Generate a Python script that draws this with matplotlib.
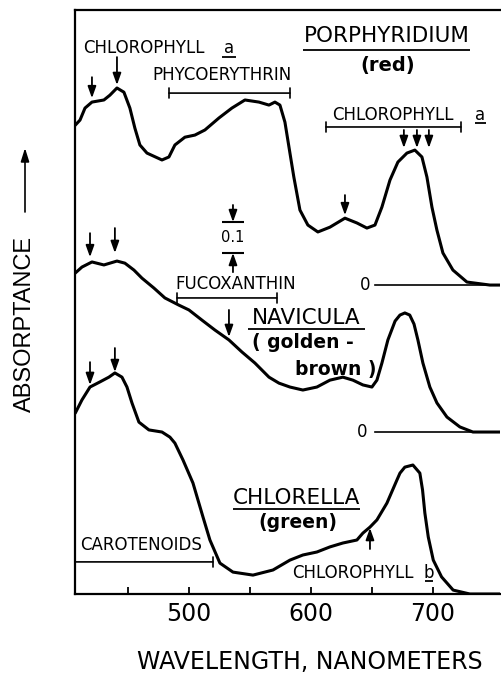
import matplotlib.pyplot as plt

# absorptance spectra (each relative to its own zero)
wl_porph = [406.8, 410.7, 414.8, 420.5, 430.3, 435.2, 441, 446.7, 451.6, 455.7, 459.8, 465.6, 477.9, 483.6,
            488.5, 496.7, 504.9, 513.1, 524.6, 535.2, 545.9, 557.4, 565.6, 570.5, 574.6, 578.7, 582.8, 586,
            591, 597.5, 605.7, 615.6, 627.9, 637.7, 645.9, 652.5, 658.2, 664.8, 671.3, 678.7, 685.2, 691,
            695.1, 699.2, 703.3, 708.2, 716.4, 727.9, 746.7, 755]
ab_porph = [0.533, 0.55, 0.59, 0.61, 0.617, 0.633, 0.657, 0.643, 0.59, 0.523, 0.467, 0.44, 0.417, 0.427,
            0.467, 0.493, 0.5, 0.517, 0.557, 0.59, 0.617, 0.61, 0.6, 0.61, 0.6, 0.543, 0.44, 0.36,
            0.25, 0.2, 0.177, 0.193, 0.223, 0.207, 0.19, 0.2, 0.26, 0.35, 0.41, 0.44, 0.45, 0.427,
            0.36, 0.26, 0.183, 0.107, 0.05, 0.01, 0.0, 0.0]

wl_navi = [406.8, 412.3, 420.5, 430.3, 441, 447.5, 454.9, 461.5, 471.3, 480.3, 491.8, 500, 510.7, 521.3,
           532.8, 543.4, 554.1, 565.6, 573.8, 582.8, 593.4, 604.9, 615.6, 626.2, 634.4, 642.6, 650, 654.1,
           658.2, 663.1, 669, 673, 677, 681, 684.5, 687.7, 691.8, 697.5, 703.3, 711.5, 722.1, 732.8, 755]
ab_navi = [0.53, 0.55, 0.567, 0.557, 0.57, 0.563, 0.54, 0.513, 0.48, 0.447, 0.423, 0.407, 0.373, 0.34,
           0.307, 0.267, 0.23, 0.183, 0.163, 0.15, 0.14, 0.15, 0.173, 0.183, 0.173, 0.157, 0.15, 0.173,
           0.23, 0.307, 0.37, 0.39, 0.397, 0.39, 0.36, 0.307, 0.23, 0.15, 0.097, 0.05, 0.017, 0.0, 0.0]

wl_chlo = [406.8, 412.3, 418.9, 427, 434.4, 439.3, 445.1, 449.2, 453.3, 459, 467.2, 477.9, 484.4, 488.5,
           495.1, 503.3, 511.5, 517.2, 525.4, 536.1, 552.5, 568.9, 582.8, 593.4, 604.9, 615.6, 626.2, 637.7,
           642.6, 648.4, 654.1, 662.3, 670.5, 673, 677, 683.6, 689.3, 691.5, 693.4, 696.2, 700.3, 707.1,
           716.6, 730.3, 755]
ab_chlo = [0.603, 0.647, 0.69, 0.707, 0.723, 0.737, 0.723, 0.69, 0.637, 0.573, 0.547, 0.54, 0.523, 0.503,
           0.447, 0.37, 0.257, 0.18, 0.103, 0.073, 0.063, 0.08, 0.113, 0.13, 0.14, 0.157, 0.17, 0.18,
           0.203, 0.223, 0.247, 0.303, 0.38, 0.403, 0.423, 0.43, 0.403, 0.347, 0.27, 0.19, 0.113, 0.057,
           0.013, 0.0, 0.0]

# vertical offsets of the curves (absorptance units)
off_porph = 1.03
off_navi = 0.54
off_chlo = 0.0

xticks = [450, 500, 550, 600, 650, 700]
xticklabels = ['', '500', '', '600', '', '700']

fig = plt.figure(figsize=(5.02, 6.78), dpi=100)
ax = fig.add_axes([75/502, 84/678, 425/502, 584/678])

ax.plot(wl_porph, [v + off_porph for v in ab_porph], color='k', lw=2.2,
        solid_joinstyle='round', solid_capstyle='round')
ax.plot(wl_navi, [v + off_navi for v in ab_navi], color='k', lw=2.2,
        solid_joinstyle='round', solid_capstyle='round')
ax.plot(wl_chlo, [v + off_chlo for v in ab_chlo], color='k', lw=2.2,
        solid_joinstyle='round', solid_capstyle='round')

# zero lines
ax.plot([652.5, 755], [off_porph, off_porph], color='k', lw=1.2)
ax.plot([652.5, 755], [off_navi, off_navi], color='k', lw=1.2)
ax.text(644.3, off_porph, '0', fontsize=12, ha='center', va='center')
ax.text(641.8, off_navi, '0', fontsize=12, ha='center', va='center')

ax.set_xlim(406.6, 755)
ax.set_ylim(0, 1.947)
ax.set_xticks(xticks)
ax.set_xticklabels(xticklabels)
ax.set_yticks([])
ax.tick_params(axis='x', direction='in', length=5, width=1.3, labelsize=17, pad=6)
ax.spines['right'].set_visible(False)
for s in ['left', 'top', 'bottom']:
    ax.spines[s].set_linewidth(1.6)


def arrow(x, y0, y1):
    ax.annotate('', xy=(x, y1), xytext=(x, y0),
                arrowprops=dict(arrowstyle='-|>,head_length=0.7,head_width=0.25', lw=1.3, color='k',
                                shrinkA=0, shrinkB=0, mutation_scale=10))


def bracket(x0, x1, y):
    ax.annotate('', xy=(x1, y), xytext=(x0, y),
                arrowprops=dict(arrowstyle='|-|,widthA=0.35,widthB=0.35', lw=1.2, color='k',
                                shrinkA=0, shrinkB=0))


def uline(x0, x1, y, lw=1.3):
    ax.plot([x0, x1], [y, y], color='k', lw=lw, solid_capstyle='butt')


# Porphyridium annotations
ax.text(413.1, 1.82, 'CHLOROPHYLL', fontsize=12, va='center')
ax.text(532.8, 1.82, 'a', fontsize=12, va='center', ha='center')
uline(527, 538.5, 1.79)
arrow(420.5, 1.723, 1.653)
arrow(441, 1.79, 1.697)
ax.text(469.7, 1.73, 'PHYCOERYTHRIN', fontsize=12, va='center')
bracket(483.6, 582.8, 1.67)
ax.text(661.9, 1.86, 'PORPHYRIDIUM', fontsize=15.5, ha='center', va='center')
uline(593.4, 730.3, 1.813)
ax.text(663, 1.763, '(red)', fontsize=14, fontweight='bold', ha='center', va='center')
ax.text(617.2, 1.597, 'CHLOROPHYLL', fontsize=12, va='center')
ax.text(738.5, 1.597, 'a', fontsize=12, ha='center', va='center')
uline(734.4, 743.4, 1.57)
bracket(612.3, 723, 1.557)
for x in [676.2, 686.9, 696.7]:
    arrow(x, 1.547, 1.487)
arrow(627.9, 1.33, 1.263)

# 0.1 scale bar
uline(527, 545, 1.24, lw=1.5)
uline(527, 545, 1.137, lw=1.5)
arrow(536.1, 1.297, 1.24)
arrow(536.1, 1.073, 1.137)
ax.text(536.1, 1.19, '0.1', fontsize=10.5, ha='center', va='center')

# Navicula annotations
arrow(418.9, 1.203, 1.123)
arrow(439.3, 1.22, 1.137)
ax.text(488.5, 1.033, 'FUCOXANTHIN', fontsize=12, va='center')
bracket(490.2, 572.1, 0.987)
arrow(532.8, 0.947, 0.857)
ax.text(596.3, 0.92, 'NAVICULA', fontsize=15.5, ha='center', va='center')
uline(548.4, 644.3, 0.883)
ax.text(593, 0.837, '( golden -', fontsize=13.5, fontweight='bold', ha='center', va='center')
ax.text(620.5, 0.747, 'brown )', fontsize=13.5, fontweight='bold', ha='center', va='center')

# Chlorella annotations
arrow(418.9, 0.773, 0.697)
arrow(439.3, 0.82, 0.74)
ax.text(588.1, 0.32, 'CHLORELLA', fontsize=15.5, ha='center', va='center')
uline(536, 640.2, 0.283)
ax.text(589, 0.24, '(green)', fontsize=13.5, fontweight='bold', ha='center', va='center')
ax.text(410.7, 0.163, 'CAROTENOIDS', fontsize=12, va='center')
bracket(406.6, 519.7, 0.107)
ax.text(584.4, 0.07, 'CHLOROPHYLL', fontsize=12, va='center')
ax.text(696.7, 0.07, 'b', fontsize=12, ha='center', va='center')
uline(693.4, 700, 0.043)
arrow(648.4, 0.15, 0.22)

# axis titles
fig.text(309.5/502, 1 - 662/678, 'WAVELENGTH, NANOMETERS', fontsize=17, ha='center', va='center')
fig.text(25/502, 1 - 323.5/678, 'ABSORPTANCE', fontsize=17, rotation=90, ha='center', va='center',
         family='Liberation Sans')
ax.annotate('', xy=(25/502, 1 - 148/678), xytext=(25/502, 1 - 212/678),
            xycoords='figure fraction', textcoords='figure fraction',
            arrowprops=dict(arrowstyle='-|>,head_length=0.8,head_width=0.25', lw=1.2, color='k',
                            shrinkA=0, shrinkB=0, mutation_scale=10))

fig.savefig('out.png', dpi=100)
